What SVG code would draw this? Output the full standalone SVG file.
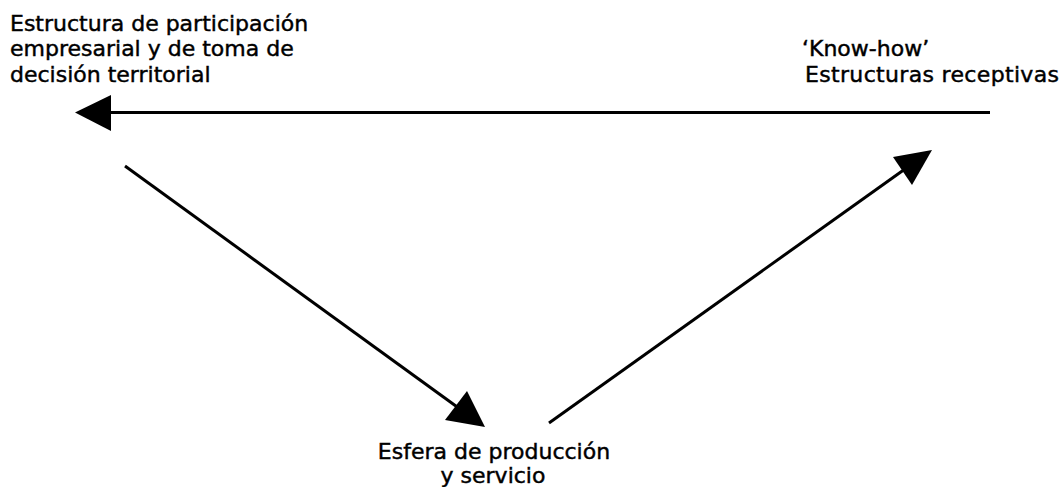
<svg xmlns="http://www.w3.org/2000/svg" width="1063" height="487" viewBox="0 0 1063 487">
<style>
.t{font-family:"DejaVu Sans","Liberation Sans",sans-serif;font-size:22px;fill:#000;stroke:#000;stroke-width:0.45}
.c{stroke:#000;stroke-width:3;fill:none}
.h{fill:#000;stroke:none}
</style>
<rect width="1063" height="487" fill="#fff"/>
<g id="node-estructura">
<text class="t" x="10" y="30.5">Estructura de participación</text>
<text class="t" x="10" y="56">empresarial y de toma de</text>
<text class="t" x="10" y="81.5">decisión territorial</text>
</g>
<g id="node-knowhow">
<text class="t" x="802" y="56">‘Know-how’</text>
<text class="t" x="805" y="81.5" textLength="254">Estructuras receptivas</text>
</g>
<g id="node-esfera">
<text class="t" x="494" y="458.5" text-anchor="middle">Esfera de producción</text>
<text class="t" x="493" y="483" text-anchor="middle">y servicio</text>
</g>
<g id="connectors">
<line class="c" x1="990" y1="112.5" x2="108" y2="112.5"/>
<polygon class="h" points="75,112.5 111,95 111,131"/>
<line class="c" x1="125" y1="166" x2="460" y2="409"/>
<polygon class="h" points="485,427 445,420 467,391"/>
<line class="c" x1="549" y1="423" x2="905" y2="169"/>
<polygon class="h" points="932,150 893,157 912,185"/>
</g>
</svg>
